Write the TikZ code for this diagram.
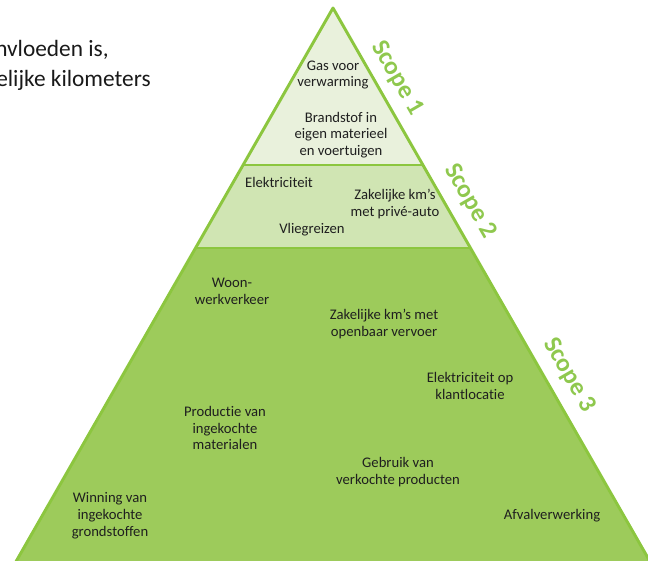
\documentclass[tikz,border=0pt]{standalone}
\usepackage{fontspec}
\setmainfont{Carlito}[Ligatures=NoCommon]
\begin{document}
\begin{tikzpicture}[x=0.75pt,y=-0.75pt,
  lbl/.style={align=center,font=\fontsize{11}{12.6}\selectfont,text=black!88,inner sep=0pt},
  scopelbl/.style={font=\fontsize{19}{20}\selectfont\bfseries,text=scopegreen,rotate=-60,inner sep=0pt},
  pagetext/.style={anchor=west,font=\fontsize{17.5}{19}\selectfont,text=black!90,inner sep=0pt},
  edge/.style={draw=edgegreen,line width=2.2pt,line join=round}]
\definecolor{edgegreen}{HTML}{8CC63F}
\definecolor{fillone}{HTML}{E9F1DC}
\definecolor{filltwo}{HTML}{D0E5B3}
\definecolor{fillthree}{HTML}{9DCB5B}
\definecolor{scopegreen}{HTML}{8FC84E}
\useasboundingbox (0,0) rectangle (648,560);
\clip (0,0) rectangle (648,560);
% geometry
\coordinate (apex) at (333,8);
\coordinate (l1) at (243,165); \coordinate (r1) at (423,165);
\coordinate (l2) at (195.5,248); \coordinate (r2) at (470.5,248);
\coordinate (bl) at (14,565); \coordinate (br) at (652,565);
% fills
\fill[fillone] (apex) -- (r1) -- (l1) -- cycle;
\fill[filltwo] (l1) -- (r1) -- (r2) -- (l2) -- cycle;
\fill[fillthree] (l2) -- (r2) -- (br) -- (bl) -- cycle;
% outlines
\draw[edge] (bl) -- (apex) -- (br) -- cycle;
\draw[edge] (l1) -- (r1);
\draw[edge] (l2) -- (r2);
% page text
\node[pagetext] (p0) at (-1,-17) {g};
\node[pagetext] (p1) at (-5,50) {nvloeden is,};
\node[pagetext] (p2) at (-4,80) {elijke kilometers};
% scope labels
\node[scopelbl] (s1) at (397,78) {Scope 1};
\node[scopelbl] (s2) at (470,201) {Scope 2};
\node[scopelbl] (s3) at (569,375) {Scope 3};
% scope 1
\node[lbl] (gas) at (333,75) {Gas voor\\verwarming};
\node[lbl] (brand) at (341,135) {Brandstof in\\eigen materieel\\en voertuigen};
% scope 2
\node[lbl] (elek) at (279,182) {Elektriciteit};
\node[lbl] (zak1) at (395,204) {Zakelijke km’s\\met privé-auto};
\node[lbl] (vlieg) at (312,230) {Vliegreizen};
% scope 3
\node[lbl] (woon) at (232,291) {Woon-\\werkverkeer};
\node[lbl] (zak2) at (384,324) {Zakelijke km’s met\\openbaar vervoer};
\node[lbl] (klant) at (470,386) {Elektriciteit op\\klantlocatie};
\node[lbl] (prod) at (225,428) {Productie van\\ingekochte\\materialen};
\node[lbl] (gebr) at (398,472) {Gebruik van\\verkochte producten};
\node[lbl] (winn) at (110,516) {Winning van\\ingekochte\\grondstoffen};
\node[lbl] (afval) at (552,516) {Afvalverwerking};
\end{tikzpicture}
\end{document}
